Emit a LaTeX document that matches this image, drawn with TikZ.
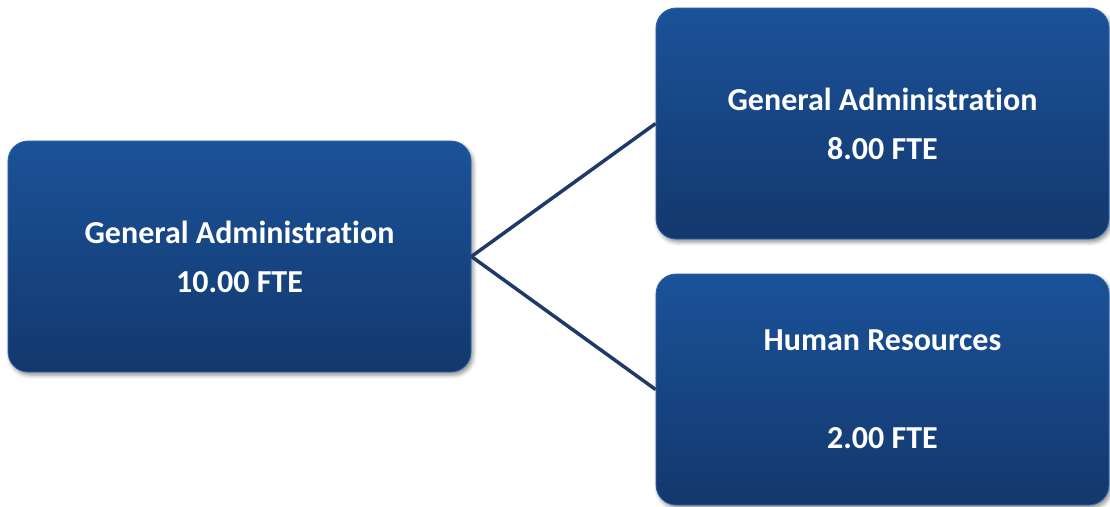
\documentclass[tikz,border=0pt]{standalone}
\usepackage{fontspec}
\setmainfont[Ligatures=NoCommon]{Carlito}
\usetikzlibrary{shadows.blur}
\definecolor{boxtop}{HTML}{1B5299}
\definecolor{boxbot}{HTML}{13386D}
\definecolor{boxrim}{HTML}{2E65AE}
\definecolor{linkcol}{HTML}{1F3A68}
\tikzset{
  unitbox/.style={
    rounded corners=20pt, top color=boxtop, bottom color=boxbot,
    draw=boxrim, line width=0.8pt,
    minimum height=231pt, inner sep=0pt,
    text=white, align=center,
    font=\bfseries\fontsize{32}{49}\selectfont,
    blur shadow={shadow xshift=2pt, shadow yshift=-3pt,
      shadow blur radius=4pt, shadow opacity=45}},
  link/.style={draw=linkcol, line width=3.5pt}
}
\begin{document}
\begin{tikzpicture}[x=1pt,y=-1pt]
  \useasboundingbox (0,0) rectangle (1110,506);
  \node[unitbox, minimum width=463pt] (ga10) at (239.5,256.5)
    {General Administration\\10.00 FTE};
  \node[unitbox, minimum width=453pt] (ga8) at (882.5,123.5)
    {General Administration\\8.00 FTE};
  \node[unitbox, minimum width=453pt] (hr) at (882.5,389.5)
    {Human Resources\\[49pt]2.00 FTE};
  \draw[link] (ga10.east) -- (ga8.west);
  \draw[link] (ga10.east) -- (hr.west);
\end{tikzpicture}
\end{document}
